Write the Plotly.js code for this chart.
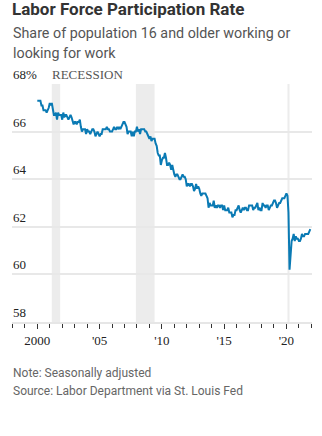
<!DOCTYPE html>
<html>
<head>
<meta charset="utf-8">
<script src="https://cdn.plot.ly/plotly-3.0.1.min.js"></script>
<style>
html,body{margin:0;padding:0;background:#fff;}
#chart{width:322px;height:436px;}
</style>
</head>
<body>
<div id="chart"></div>
<script>
// Monthly labor force participation rate, Jan 2000 - Dec 2021 (%)
const startYear = 2000;
const rate2000 = [67.3,67.3,67.3,67.3,67.1,67.1,66.9,66.9,66.9,66.8,66.9,67.0];
const rate2001 = [67.2,67.1,67.2,66.9,66.7,66.7,66.8,66.5,66.8,66.7,66.7,66.7];
const rate2002 = [66.5,66.8,66.6,66.7,66.7,66.6,66.5,66.6,66.7,66.6,66.4,66.3];
const rate2003 = [66.4,66.4,66.3,66.4,66.4,66.5,66.2,66.0,66.1,66.1,66.1,65.9];
const rate2004 = [66.1,66.0,66.0,65.9,66.0,66.1,66.1,66.0,65.8,65.9,66.0,65.9];
const rate2005 = [65.8,65.9,65.9,66.1,66.1,66.1,66.1,66.2,66.1,66.1,66.0,66.0];
const rate2006 = [66.0,66.1,66.2,66.1,66.1,66.2,66.1,66.2,66.1,66.2,66.3,66.4];
const rate2007 = [66.4,66.3,66.2,65.9,66.0,66.0,66.0,65.8,66.0,65.8,66.0,66.0];
const rate2008 = [66.2,66.0,66.1,65.9,66.1,66.1,66.1,66.1,66.0,66.0,65.9,65.8];
const rate2009 = [65.7,65.8,65.6,65.7,65.7,65.7,65.5,65.4,65.1,65.0,65.0,64.6];
const rate2010 = [64.8,64.9,64.9,65.1,64.9,64.6,64.6,64.7,64.6,64.4,64.6,64.3];
const rate2011 = [64.2,64.1,64.2,64.2,64.1,64.0,64.0,64.1,64.2,64.1,64.1,64.0];
const rate2012 = [63.7,63.8,63.8,63.7,63.8,63.8,63.7,63.5,63.6,63.8,63.6,63.7];
const rate2013 = [63.6,63.4,63.3,63.4,63.4,63.4,63.4,63.3,63.2,62.8,63.0,62.9];
const rate2014 = [62.9,62.9,63.1,62.8,62.9,62.8,62.9,62.9,62.8,62.9,62.9,62.7];
const rate2015 = [62.9,62.7,62.7,62.7,62.8,62.6,62.6,62.6,62.4,62.5,62.5,62.7];
const rate2016 = [62.7,62.8,62.9,62.7,62.6,62.7,62.8,62.7,62.8,62.8,62.7,62.7];
const rate2017 = [62.9,62.9,62.9,62.9,62.7,62.8,62.8,62.9,63.0,62.7,62.8,62.7];
const rate2018 = [62.7,63.0,62.9,62.9,62.8,62.9,62.9,62.7,62.8,62.9,62.9,63.0];
const rate2019 = [63.1,63.1,63.0,62.8,62.9,63.0,63.0,63.1,63.2,63.2,63.2,63.3];
const rate2020 = [63.4,63.3,62.6,60.2,60.7,61.4,61.5,61.7,61.4,61.6,61.5,61.5];
const rate2021 = [61.4,61.4,61.5,61.7,61.6,61.6,61.7,61.7,61.7,61.7,61.8,61.9];

const recessionStarts = ['2001-03-01','2007-12-01','2020-02-01'];
const recessionEnds   = ['2001-11-01','2009-06-01','2020-04-01'];

const yTickVals = [58,60,62,64,66,68];
const yTickText = ['58','60','62','64','66','68%'];
const xTickVals = ['2000-01-01','2005-01-01','2010-01-01','2015-01-01','2020-01-01'];
const xTickText = ['2000',"'05","'10","'15","'20"];

const subtitleLines = ['Share of population 16 and older working or', 'looking for work'];
const noteLines = ['Note: Seasonally adjusted', 'Source: Labor Department via St. Louis Fed'];

const years = [rate2000,rate2001,rate2002,rate2003,rate2004,rate2005,rate2006,rate2007,rate2008,rate2009,rate2010,rate2011,rate2012,rate2013,rate2014,rate2015,rate2016,rate2017,rate2018,rate2019,rate2020,rate2021];
const dates = [], values = [];
years.forEach((arr, i) => {
  arr.forEach((v, m) => {
    dates.push((startYear + i) + '-' + String(m + 1).padStart(2, '0') + '-01');
    values.push(v);
  });
});

const sans = 'Roboto, "Noto Sans", sans-serif';
const serif = '"Liberation Serif", "Times New Roman", serif';

// plot area: top 84px, bottom 322px (height 238)
const pyTop = 84, pyBot = 322, ph = pyBot - pyTop;
const paperY = px => (pyBot - px) / ph;

const shapes = recessionStarts.map((s, i) => ({
  type: 'rect', xref: 'x', yref: 'y', x0: s, x1: recessionEnds[i], y0: 58, y1: 68,
  fillcolor: '#ececec', line: {width: 0}, layer: 'below'
}));

const annotations = [];
subtitleLines.forEach((t, i) => annotations.push({
  text: t, xref: 'paper', yref: 'paper', x: 0, y: paperY(23 + i * 20),
  xanchor: 'left', yanchor: 'top', align: 'left', showarrow: false, xshift: -1,
  font: {family: sans, size: 14.3, color: '#555'}
}));
noteLines.forEach((t, i) => annotations.push({
  text: t, xref: 'paper', yref: 'paper', x: 0, y: paperY(364 + i * 18),
  xanchor: 'left', yanchor: 'top', align: 'left', showarrow: false, xshift: -1,
  font: {family: sans, size: 12, color: '#666'}
}));
yTickVals.forEach((v, i) => annotations.push({
  text: yTickText[i], xref: 'paper', yref: 'y', x: 0, y: v,
  xanchor: 'left', yanchor: 'bottom', showarrow: false, xshift: -1, yshift: 0,
  font: {family: serif, size: 13, color: '#222'}
}));
annotations.push({
  text: 'RECESSION',
  xref: 'x', yref: 'y', x: recessionStarts[0], y: 68,
  xanchor: 'left', yanchor: 'bottom', showarrow: false,
  xshift: -2, yshift: 0,
  font: {family: serif, size: 13, color: '#555'}
});

const layout = {
  width: 322, height: 436,
  margin: {l: 12, r: 10, t: pyTop, b: 436 - pyBot},
  paper_bgcolor: '#fff', plot_bgcolor: '#fff',
  showlegend: false,
  title: {
    text: '<b>Labor Force Participation Rate</b>',
    font: {family: sans, size: 17, color: '#333'},
    x: 12/322, xref: 'container', xanchor: 'left',
    y: 1 - 3/436, yref: 'container', yanchor: 'top'
  },
  xaxis: {
    type: 'date',
    range: ['1997-12-20', '2022-01-20'],
    tickvals: xTickVals, ticktext: xTickText,
    ticks: 'outside', ticklen: 5, tickwidth: 1, tickcolor: '#333',
    showgrid: false, zeroline: false,
    showline: true, linecolor: '#e6e6e6', linewidth: 2,
    tickfont: {family: serif, size: 13, color: '#222'},
    minor: {dtick: 'M12', tick0: '2000-01-01', ticks: 'outside', ticklen: 4, tickcolor: '#333', tickwidth: 1, showgrid: false},
    fixedrange: true
  },
  yaxis: {
    range: [58, 68],
    tickvals: yTickVals,
    showticklabels: false,
    ticks: '',
    showgrid: true, gridcolor: '#e8e8e8', gridwidth: 2,
    zeroline: false, showline: false,
    fixedrange: true
  },
  shapes: shapes,
  annotations: annotations
};

const trace = {
  type: 'scatter', mode: 'lines',
  x: dates, y: values,
  line: {color: '#0a7ab4', width: 2},
  hoverinfo: 'skip'
};

Plotly.newPlot('chart', [trace], layout, {displayModeBar: false, staticPlot: true});
</script>
</body>
</html>
